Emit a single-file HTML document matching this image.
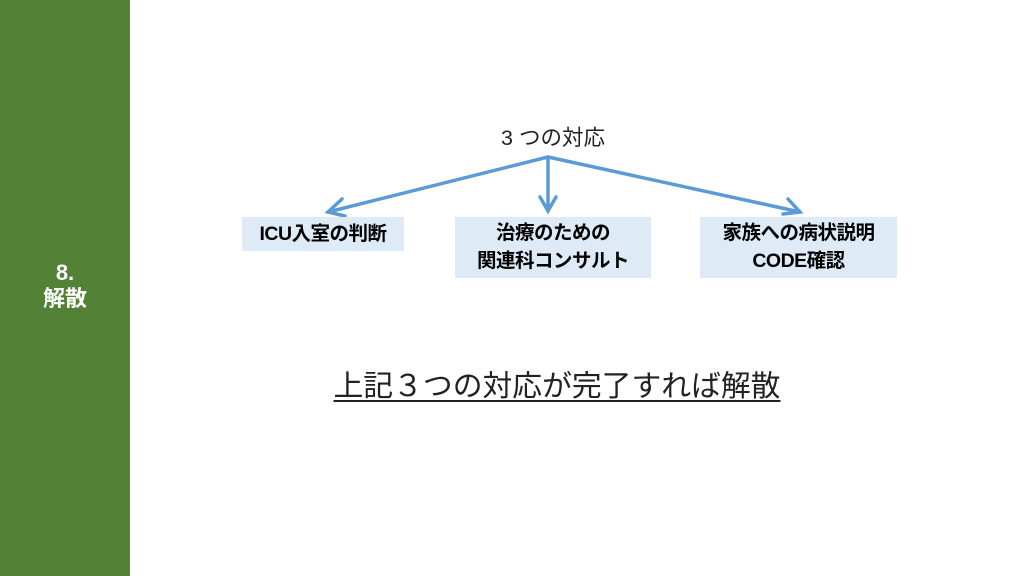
<!DOCTYPE html>
<html><head><meta charset="utf-8"><style>
body{margin:0;width:1024px;height:576px;position:relative;background:#fff;overflow:hidden;font-family:"Liberation Sans","Noto Sans CJK JP",sans-serif;}
.side{position:absolute;left:0;top:0;width:130px;height:576px;background:#538135;}
.side div{position:absolute;left:0;width:130px;text-align:center;color:#fff;font-weight:bold;font-size:22px;line-height:26px;}
.box{position:absolute;background:#deebf7;color:#000;font-weight:bold;font-size:19.5px;text-align:center;line-height:28px;letter-spacing:-0.5px;}
.t{position:absolute;text-align:center;}
</style></head><body>
<div class="side"><div style="top:260px">8.<br>解散</div></div>
<div class="t" style="left:443px;top:121px;width:220px;font-size:21.5px;color:#222;">3 つの対応</div>
<svg style="position:absolute;left:0;top:0" width="1024" height="576">
<g stroke="#5b9bd5" stroke-width="3.5" fill="none" stroke-linecap="round">
<line x1="548" y1="157" x2="328" y2="212"/>
<line x1="548" y1="157" x2="548" y2="210"/>
<line x1="548" y1="157" x2="800" y2="212"/>
<polyline points="342,199 328,212 345,216"/>
<polyline points="540,197 548,211 556,197"/>
<polyline points="783,214 800,212 788,199"/>
</g></svg>
<div class="box" style="left:242px;top:217px;width:162px;height:34px;line-height:34px;">ICU入室の判断</div>
<div class="box" style="left:455px;top:217px;width:196px;height:61px;padding-top:2px;box-sizing:border-box;">治療のための<br>関連科コンサルト</div>
<div class="box" style="left:700px;top:217px;width:197px;height:61px;padding-top:2px;box-sizing:border-box;">家族への病状説明<br>CODE確認</div>
<div class="t" style="left:225px;top:361px;width:664px;font-size:29.8px;color:#222;"><span style="text-decoration:underline;text-underline-offset:4px;">上記３つの対応が完了すれば解散</span></div>
</body></html>
